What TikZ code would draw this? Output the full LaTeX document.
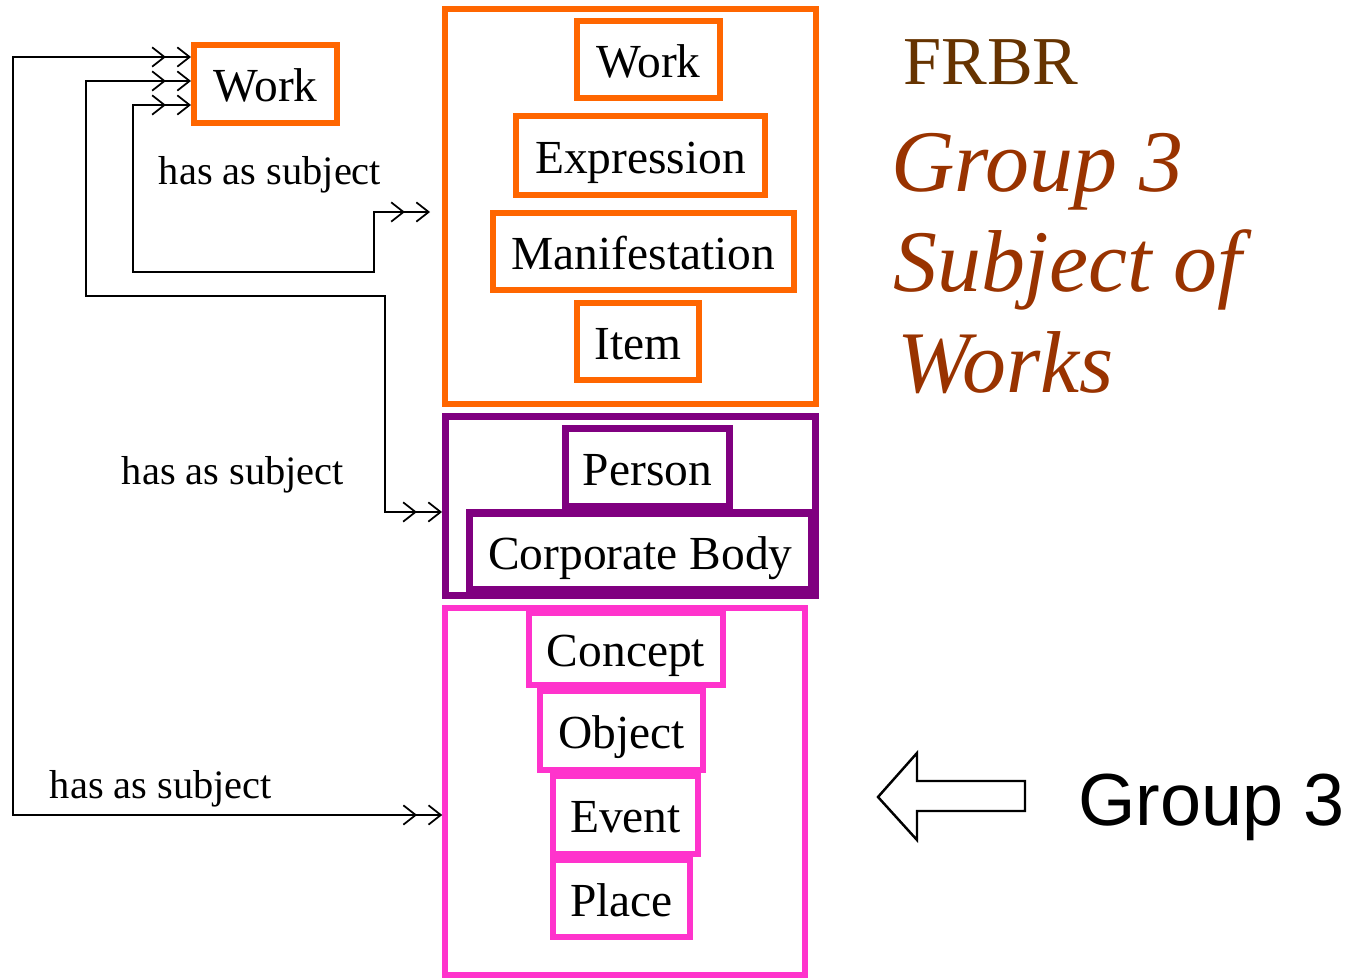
\documentclass[tikz,border=0pt]{standalone}
\usepackage{fontspec}
\setmainfont{Liberation Serif}
\newfontfamily\grpfont{Liberation Sans}
\usepackage{xcolor}
\usetikzlibrary{arrows.meta}
\definecolor{frbrorange}{HTML}{FF6600}
\definecolor{frbrpurple}{HTML}{800080}
\definecolor{frbrpink}{HTML}{FF33CC}
\definecolor{frbrbrown}{HTML}{663300}
\definecolor{frbrrust}{HTML}{993300}

\begin{document}
\begin{tikzpicture}[x=0.02cm, y=-0.02cm]
            \useasboundingbox (0,0) rectangle (1353,979);
            \begin{scope}[every node/.style={rectangle,draw,inner sep=0pt,text height=20pt,text depth=0pt,font=\fontsize{27}{32}\selectfont}]
                % group 1
                \begin{scope}[every node/.append style={draw=frbrorange,line width=3.4pt}]
                    \node[minimum width=7.42cm, minimum height=7.9cm] (GroupOne) at (630.5,206.5) {};
                    \node[minimum width=2.86cm, minimum height=1.56cm] (SubjWork) at (265.5,84) {Work};
                    \node[minimum width=2.86cm, minimum height=1.54cm] (Work) at (648.5,59.5) {Work};
                    \node[minimum width=4.98cm, minimum height=1.58cm] (Expression) at (640.5,155.5) {Expression};
                    \node[minimum width=6.02cm, minimum height=1.54cm] (Manifestation) at (643.5,251.5) {Manifestation};
                    \node[minimum width=2.44cm, minimum height=1.54cm] (Item) at (638,341.5) {Item};
                \end{scope}
                % group 2
                \begin{scope}[every node/.append style={draw=frbrpurple,line width=4pt}]
                    \node[minimum width=7.40cm, minimum height=3.58cm] (GroupTwo) at (630.5,506) {};
                    \node[minimum width=3.28cm, minimum height=1.56cm] (Person) at (647.5,467.5) {Person};
                    \node[minimum width=6.86cm, minimum height=1.54cm] (CorpBody) at (640.5,551.5) {Corporate Body};
                \end{scope}
                % group 3
                \begin{scope}[every node/.append style={draw=frbrpink,line width=3.2pt}]
                    \node[minimum width=7.20cm, minimum height=7.34cm] (GroupThree) at (625,791.5) {};
                    \node[minimum width=3.88cm, minimum height=1.44cm] (Concept) at (626,649) {Concept};
                    \node[minimum width=3.26cm, minimum height=1.58cm] (Object) at (621.5,730.5) {Object};
                    \node[minimum width=2.90cm, minimum height=1.56cm] (Event) at (625.5,815) {Event};
                    \node[minimum width=2.74cm, minimum height=1.54cm] (Place) at (621.5,898.5) {Place};
                \end{scope}
            \end{scope}

            \begin{scope}[every node/.style={anchor=base,font=\fontsize{23}{28}\selectfont},
                          every path/.style={line width=1pt},
                          subj/.style={{Straight Barb[length=7pt,width=11pt]Straight Barb[length=7pt,width=11pt,sep=6pt]}-{Straight Barb[length=7pt,width=11pt,sep=6pt]Straight Barb[length=7pt,width=11pt]}}]
                 \draw[subj] ([yshift=-.42cm]SubjWork.west) -| (133,272) -| (374,212) -- ([xshift=-.24cm,yshift=-.11cm]GroupOne.west);
                 \draw[subj] ([yshift=.06cm]SubjWork.west) -| (86,296) -| (385,512) -- ([yshift=-.12cm]GroupTwo.west);
                 \draw[subj] ([yshift=.54cm]SubjWork.west) -| (13,815) -- ([yshift=-.47cm]GroupThree.west);
                 \node (SubjA) at (270,185) {has as subject};
                 \node (SubjB) at (233,485) {has as subject};
                 \node (SubjC) at (161,798) {has as subject};
            \end{scope}

            % titles
            \node[anchor=base west, text=frbrbrown, font=\fontsize{39}{47}\selectfont] (FRBR) at (897,85) {FRBR};
            \begin{scope}[every node/.style={anchor=base west, text=frbrrust, font=\fontsize{50}{58}\selectfont\itshape}]
                \node (TitleA) at (885,192) {Group 3};
                \node (TitleB) at (887,292) {Subject of};
                \node (TitleC) at (891,393) {Works};
            \end{scope}
            \draw[line width=1.4pt] (878,797) -- (917,753) -- (917,781) -- (1025,781) -- (1025,811) -- (917,811) -- (917,840) -- cycle;
            \node[anchor=base west, font=\grpfont\fontsize{42}{50}\selectfont] (GroupLabel) at (1072,826) {Group 3};
\end{tikzpicture}
\end{document}
